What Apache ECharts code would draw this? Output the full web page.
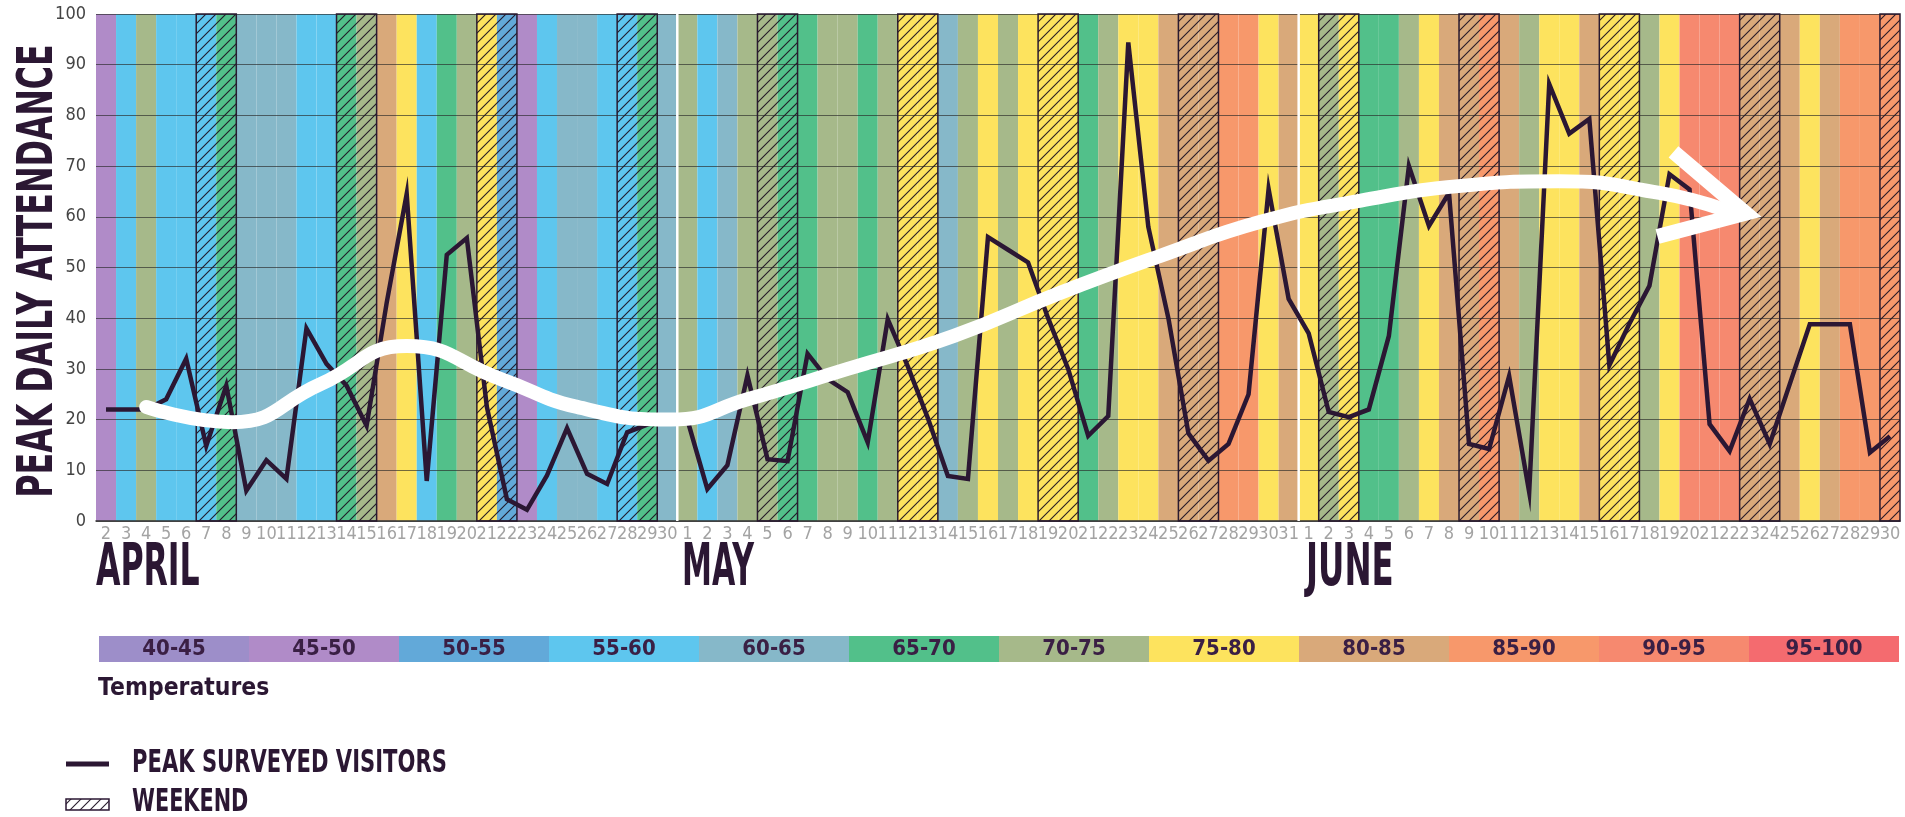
<!DOCTYPE html>
<html><head><meta charset="utf-8">
<script src="https://cdn.jsdelivr.net/npm/echarts@6/dist/echarts.min.js"></script>
<style>html,body{margin:0;padding:0;background:#fff}#c{width:1905px;height:817px}</style>
</head><body><div id="c"></div>
<script>
// ---------------- DATA ----------------
const monthNames = ['APRIL', 'MAY', 'JUNE'];
const dayLabels = [
  '2','3','4','5','6','7','8','9','10','11','12','13','14','15','16','17','18','19','20','21','22','23','24','25','26','27','28','29','30',
  '1','2','3','4','5','6','7','8','9','10','11','12','13','14','15','16','17','18','19','20','21','22','23','24','25','26','27','28','29','30','31',
  '1','2','3','4','5','6','7','8','9','10','11','12','13','14','15','16','17','18','19','20','21','22','23','24','25','26','27','28','29','30'
];
const visitors = [
  22, 22, 22, 24, 32, 14.8, 26.7, 6, 12, 8.3, 38, 31, 26.7, 18.8, 43, 64.5, 7.9, 52.5, 55.8, 22.5, 4.3, 2.2, 9, 18.3, 9.3, 7.3, 17.5, 19, 20,
  20, 6.3, 11, 28.7, 12.2, 11.8, 33, 28, 25.4, 15.5, 39.8, 30.5, 20.3, 8.9, 8.3, 56, 53.5, 51, 40, 30, 16.8, 20.7, 94.4, 58, 40, 17.3, 11.9, 15.2, 25, 65.5, 43.8,
  37, 21.5, 20.5, 22, 36.5, 70, 58.2, 64.7, 15.2, 14.2, 28.6, 5.7, 86.2, 76.4, 79.3, 30.7, 38.9, 46.4, 68.4, 65.4, 19.1, 13.8, 24.1, 15.2, 27, 38.8, 38.8, 38.8, 13.5, 16.7
];
const tempBands = ['40-45','45-50','50-55','55-60','60-65','65-70','70-75','75-80','80-85','85-90','90-95','95-100'];
const dayTemp = [
  '45-50','55-60','70-75','55-60','55-60','55-60','65-70','60-65','60-65','60-65','55-60','55-60','65-70','70-75','80-85','75-80','55-60','65-70','70-75','75-80','50-55','45-50','55-60','60-65','60-65','55-60','55-60','65-70','60-65',
  '70-75','55-60','60-65','70-75','70-75','65-70','65-70','70-75','70-75','65-70','70-75','75-80','75-80','60-65','70-75','75-80','70-75','75-80','75-80','75-80','65-70','70-75','75-80','75-80','80-85','80-85','80-85','85-90','85-90','75-80','80-85',
  '75-80','70-75','75-80','65-70','65-70','70-75','75-80','80-85','80-85','85-90','80-85','70-75','75-80','75-80','80-85','75-80','75-80','70-75','75-80','90-95','90-95','90-95','80-85','80-85','80-85','75-80','80-85','85-90','85-90','85-90'
];
// weekend spans, as [first day index, last day index]
const weekendRanges = [[5,6],[12,13],[19,20],[26,27],[33,34],[40,41],[47,48],[54,55],[61,62],[68,69],[75,76],[82,83],[89,89]];
// month boundaries (between day indices)
const monthBoundaries = [28.5, 59.5];
// white trend arrow: [day index, value]
const arrowPath = [[2.0,22.5],[6.3,19.5],[10.7,27],[15.0,34.5],[19.7,28],[23.5,22.5],[28.2,20],[32,24],[37,30],[42.3,36.5],[47.6,45],[52.6,52.3],[57.6,59],[62.6,63.2],[67.6,66.1],[72.5,67],[77.5,64.7],[80.8,61.3]];
const arrowHead = [[78.2,72.8],[81.8,60.7],[77.4,56.1]];

// ---------------- STYLE ----------------
const tempColors = ['#9d8ec9','#b08bc8','#62a9d9','#5ec6ee','#86b8c9','#52c08a','#a6b98a','#fde35e','#d9a97a','#f7986b','#f6896f','#f46b6f'];
const ink = '#2b1733';
const narrow = "'Liberation Sans Narrow','DejaVu Sans Condensed','Liberation Sans',sans-serif";

const hatch = document.createElement('canvas');
hatch.width = 10; hatch.height = 10;
const hc = hatch.getContext('2d');
hc.strokeStyle = 'rgba(30,18,35,0.95)'; hc.lineWidth = 1.1;
hc.beginPath();
hc.moveTo(0,10); hc.lineTo(10,0);
hc.moveTo(-1,1); hc.lineTo(1,-1);
hc.moveTo(9,11); hc.lineTo(11,9);
hc.stroke();
const hatchFill = {image: hatch, repeat: 'repeat'};

const chart = echarts.init(document.getElementById('c'));
const option = {
  animation: false,
  grid: [
    {left: 96, right: 5, top: 14, height: 507},
    {left: 99, width: 1800, top: 636, height: 26}
  ],
  xAxis: [
    {type: 'category', gridIndex: 0, data: dayLabels, boundaryGap: true,
     axisLine: {show: true, lineStyle: {color: '#333', width: 1.5}},
     axisTick: {show: false},
     axisLabel: {interval: 0, hideOverlap: false, color: '#a3a3a3', fontFamily: narrow, fontSize: 18, margin: 4},
     splitLine: {show: false}, z: 3},
    {type: 'value', gridIndex: 0, min: -0.5, max: 89.5, show: false},
    {type: 'category', gridIndex: 1, data: tempBands, show: false}
  ],
  yAxis: [
    {type: 'value', gridIndex: 0, min: 0, max: 100, interval: 10, z: 3,
     axisLine: {show: false}, axisTick: {show: false},
     axisLabel: {color: '#444', fontFamily: narrow, fontSize: 18, margin: 10},
     splitLine: {show: true, lineStyle: {color: 'rgba(40,40,40,0.65)', width: 1}}},
    {type: 'value', gridIndex: 1, min: 0, max: 1, show: false}
  ],
  series: [
    {name: 'Temperature', type: 'bar', xAxisIndex: 0, yAxisIndex: 0, z: 1, silent: true,
     barCategoryGap: '0%',
     data: dayTemp.map(t => ({value: 100, itemStyle: {color: tempColors[tempBands.indexOf(t)]}}))},
    {name: 'Month divider', type: 'custom', xAxisIndex: 1, yAxisIndex: 0, z: 4, silent: true,
     data: monthBoundaries.map(b => [b, 0]),
     encode: {x: 0, y: 1},
     renderItem: function (params, api) {
       const p0 = api.coord([api.value(0), 100]);
       const p1 = api.coord([api.value(0), 0]);
       return {type: 'line', shape: {x1: p0[0], y1: p0[1], x2: p1[0], y2: p1[1]}, style: {stroke: '#fff', lineWidth: 2.5}};
     }},
    {name: 'WEEKEND', type: 'custom', xAxisIndex: 1, yAxisIndex: 0, z: 4, silent: true,
     data: weekendRanges.map(r => [r[0], r[1], 100]),
     encode: {x: [0, 1], y: 2},
     renderItem: function (params, api) {
       const p0 = api.coord([api.value(0) - 0.5, 100]);
       const p1 = api.coord([api.value(1) + 0.5, 0]);
       return {type: 'rect', shape: {x: p0[0], y: p0[1], width: p1[0] - p0[0], height: p1[1] - p0[1]},
               style: {fill: hatchFill, stroke: '#2a1a30', lineWidth: 1.5}};
     }},
    {name: 'PEAK SURVEYED VISITORS', type: 'line', xAxisIndex: 0, yAxisIndex: 0, z: 5,
     data: visitors, symbol: 'none',
     lineStyle: {color: ink, width: 4.5, join: 'miter'}},
    {name: 'Trend', type: 'line', xAxisIndex: 1, yAxisIndex: 0, z: 6, silent: true,
     data: arrowPath, symbol: 'none', smooth: 0.5,
     lineStyle: {color: '#fff', width: 14, cap: 'round'}},
    {name: 'Trend head', type: 'line', xAxisIndex: 1, yAxisIndex: 0, z: 6, silent: true,
     data: arrowHead, symbol: 'none',
     lineStyle: {color: '#fff', width: 15, join: 'miter', cap: 'butt', miterLimit: 10}},
    {name: 'Temperatures', type: 'bar', xAxisIndex: 2, yAxisIndex: 1, silent: true,
     barCategoryGap: '0%',
     data: tempBands.map((b, i) => ({value: 1, itemStyle: {color: tempColors[i]}})),
     label: {show: true, position: 'inside', formatter: '{b}', color: '#3a1f44',
             fontFamily: narrow, fontWeight: 'bold', fontSize: 22}}
  ],
  graphic: [
    {type: 'text', x: 39, y: 271, rotation: Math.PI / 2, scaleX: 0.647,
     style: {text: 'PEAK DAILY ATTENDANCE', fontFamily: 'DejaVu Sans', fontWeight: 'bold', fontSize: 49, fill: ink, align: 'center', verticalAlign: 'middle'}},
    {type: 'text', x: 96, y: 570, scaleX: 0.535,
     style: {text: monthNames[0], fontFamily: 'DejaVu Sans', fontWeight: 'bold', fontSize: 59, fill: ink, align: 'left', verticalAlign: 'middle'}},
    {type: 'text', x: 682, y: 570, scaleX: 0.51,
     style: {text: monthNames[1], fontFamily: 'DejaVu Sans', fontWeight: 'bold', fontSize: 59, fill: ink, align: 'left', verticalAlign: 'middle'}},
    {type: 'text', x: 1306, y: 570, scaleX: 0.55,
     style: {text: monthNames[2], fontFamily: 'DejaVu Sans', fontWeight: 'bold', fontSize: 59, fill: ink, align: 'left', verticalAlign: 'middle'}},
    {type: 'text', x: 98, y: 688, scaleX: 0.88,
     style: {text: 'Temperatures', fontFamily: 'DejaVu Sans', fontWeight: 'bold', fontSize: 25, fill: ink, align: 'left', verticalAlign: 'middle'}},
    {type: 'line', shape: {x1: 66, y1: 764, x2: 109, y2: 764}, style: {stroke: ink, lineWidth: 5}},
    {type: 'text', x: 132, y: 764, scaleX: 0.67,
     style: {text: 'PEAK SURVEYED VISITORS', fontFamily: 'DejaVu Sans', fontWeight: 'bold', fontSize: 31.5, fill: ink, align: 'left', verticalAlign: 'middle'}},
    {type: 'rect', shape: {x: 66, y: 799, width: 43, height: 11}, style: {fill: hatchFill, stroke: ink, lineWidth: 1.5}},
    {type: 'text', x: 132, y: 803, scaleX: 0.66,
     style: {text: 'WEEKEND', fontFamily: 'DejaVu Sans', fontWeight: 'bold', fontSize: 31.5, fill: ink, align: 'left', verticalAlign: 'middle'}}
  ]
};
chart.setOption(option);
</script>
</body></html>
